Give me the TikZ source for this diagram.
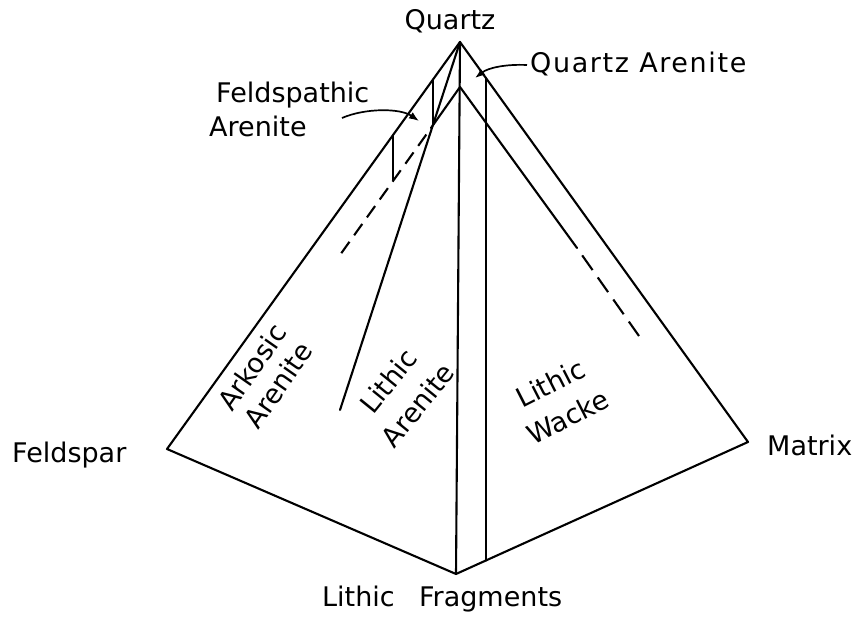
\documentclass[tikz,border=0pt]{standalone}
\usepackage{fontspec}
\setmainfont{DejaVu Sans}
\newfontfamily\qafont[LetterSpace=6]{DejaVu Sans}
\usetikzlibrary{arrows.meta}
\begin{document}
\begin{tikzpicture}[x=1pt,y=-1pt,
  edge/.style={line width=2.1pt,line cap=round,line join=round},
  lbl/.style={inner sep=0pt,font=\fontsize{27}{32}\selectfont},
  rlbl/.style={inner sep=0pt,align=center,font=\fontsize{27}{#1}\selectfont},
  dashL/.style={edge,line cap=butt,dash pattern=on 14pt off 8pt,dash phase=14pt},
  dashR/.style={edge,line cap=butt,dash pattern=on 18pt off 9pt,dash phase=18pt},
  ptr/.style={line width=1.7pt,-{Latex[length=10pt,width=7.5pt]}}]
\useasboundingbox (0,0) rectangle (864,620);
% vertices
\coordinate (Q) at (460,42);
\coordinate (F) at (167,449);
\coordinate (M) at (748,442);
\coordinate (L) at (456,574);
\coordinate (I) at (460,87);
% outer pyramid
\draw[edge] (Q) -- (F) -- (L) -- (M) -- cycle;
\draw[edge] (Q) -- (L);
% Q to lithic arenite boundary
\coordinate (LA) at (340,410);
\draw[edge] (Q) -- (LA);
% inner left line
\coordinate (IL1) at (431,128);
\coordinate (IL2) at (340,255);
\draw[edge] (I) -- (IL1);
\draw[dashL] (IL1) -- (IL2);
% inner right line
\coordinate (IR1) at (577,248);
\coordinate (IR2) at (639,336);
\draw[edge] (I) -- (IR1);
\draw[dashR] (IR1) -- (IR2);
% small verticals (feldspathic arenite)
\coordinate (V1a) at (433,79.5);
\coordinate (V1b) at (433,124.5);
\coordinate (V2a) at (393,135);
\coordinate (V2b) at (393,180);
\draw[edge] (V1a) -- (V1b);
\draw[edge] (V2a) -- (V2b);
% right vertical
\coordinate (V3a) at (486,78);
\coordinate (V3b) at (486,560.5);
\draw[edge] (V3a) -- (V3b);
% labels
\node[lbl,anchor=base] (quartz) at (450,30) {Quartz};
\node[lbl,anchor=base west,font=\fontsize{27}{32}\qafont] (qarenite) at (530,73) {Quartz Arenite};
\node[lbl,anchor=base west] (feldspar) at (12,462) {Feldspar};
\node[lbl,anchor=base west] (matrix) at (767,455) {Matrix};
\node[lbl,anchor=base west] (lithfrag) at (322,606) {Lithic\hspace{0.9em}Fragments};
\node[lbl,anchor=base west] (fa1) at (216,103) {Feldspathic};
\node[lbl,anchor=base west] (fa2) at (209,137) {Arenite};
\node[rlbl=32,rotate=55] (arkosic) at (265,376) {Arkosic\\Arenite};
\node[rlbl=38,rotate=51] (litharen) at (403,393) {Lithic\\Arenite};
\node[rlbl=38,rotate=27] (lithwacke) at (559,400) {Lithic\\Wacke};
% pointers
\coordinate (qaS) at (527,65);
\coordinate (qaE) at (475,78);
\draw[ptr] (qaS) .. controls (505,64) and (488,68) .. (qaE);
\coordinate (faS) at (342,118);
\coordinate (faE) at (419,121);
\draw[ptr] (faS) .. controls (365,108) and (400,108) .. (faE);
\end{tikzpicture}
\end{document}
